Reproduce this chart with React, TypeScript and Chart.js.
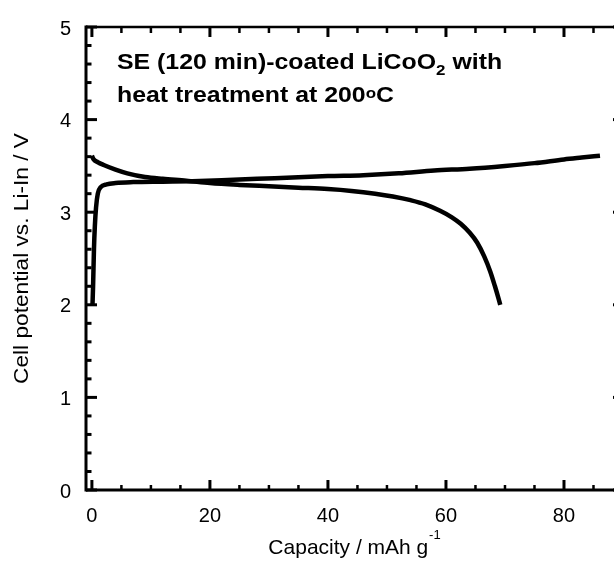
import React, { useEffect, useRef } from "react";
import { Chart, registerables } from "chart.js";

Chart.register(...registerables);

// Charge curve (upper, ends near 86 mAh/g at 3.61 V)
const CHARGE_CAPACITY = [0.1, 0.2, 0.35, 0.5, 0.7, 1.0, 1.5, 2.5, 4, 7, 12, 17, 22, 28, 34, 40, 46, 52, 58, 64, 70, 75, 80, 83, 86.1];
const CHARGE_VOLTAGE = [2.0, 2.2, 2.6, 2.85, 3.05, 3.2, 3.27, 3.3, 3.315, 3.325, 3.33, 3.335, 3.345, 3.36, 3.375, 3.39, 3.4, 3.42, 3.45, 3.47, 3.5, 3.53, 3.57, 3.59, 3.61];

// Discharge curve (starts at 3.6 V, ends near 69 mAh/g at 2.0 V)
const DISCHARGE_CAPACITY = [0, 0.3, 1, 2, 4, 6, 9, 12, 16, 20, 25, 30, 35, 40, 44, 48, 51, 54, 56.5, 59, 61, 62.5, 64, 65.3, 66.5, 67.5, 68.3, 68.9, 69.2];
const DISCHARGE_VOLTAGE = [3.61, 3.57, 3.54, 3.51, 3.46, 3.42, 3.38, 3.36, 3.34, 3.315, 3.295, 3.28, 3.265, 3.25, 3.23, 3.2, 3.17, 3.13, 3.085, 3.015, 2.945, 2.875, 2.78, 2.67, 2.52, 2.36, 2.2, 2.07, 2.0];

const X_MAJOR_TICKS = [0, 20, 40, 60, 80];
const X_MINOR_TICKS = [5, 10, 15, 25, 30, 35, 45, 50, 55, 65, 70, 75, 85];
const Y_MAJOR_TICKS = [0, 1, 2, 3, 4, 5];
const Y_MINOR_TICKS = [0.2, 0.4, 0.6, 0.8, 1.2, 1.4, 1.6, 1.8, 2.2, 2.4, 2.6, 2.8, 3.2, 3.4, 3.6, 3.8, 4.2, 4.4, 4.6, 4.8];

const X_TITLE = "Capacity / mAh g";
const X_TITLE_SUP = "-1";
const Y_TITLE = "Cell potential vs. Li-In / V";
const TITLE_LINE1 = ["SE (120 min)-coated LiCoO", "2", " with"];
const TITLE_LINE2 = ["heat treatment at 200", "o", "C"];

const FONT = "'Liberation Sans', Arial, Helvetica, sans-serif";

type Run = { text: string; size: number; dy: number; bold: boolean };

function drawRuns(ctx: CanvasRenderingContext2D, x: number, y: number, runs: Run[], sx: number, align: "left" | "center") {
  ctx.save();
  let total = 0;
  for (const r of runs) {
    ctx.font = `${r.bold ? "bold " : ""}${r.size}px ${FONT}`;
    total += ctx.measureText(r.text).width;
  }
  ctx.translate(x, y);
  ctx.scale(sx, 1);
  let cx = align === "center" ? -total / 2 : 0;
  ctx.textAlign = "left";
  ctx.textBaseline = "alphabetic";
  ctx.fillStyle = "#000";
  for (const r of runs) {
    ctx.font = `${r.bold ? "bold " : ""}${r.size}px ${FONT}`;
    ctx.fillText(r.text, cx, r.dy);
    cx += ctx.measureText(r.text).width;
  }
  ctx.restore();
}

const framePlugin = {
  id: "frameTicks",
  afterDatasetsDraw(chart: any) {
    const { ctx, chartArea, scales } = chart;
    const { left, right, top, bottom } = chartArea;
    const xs = scales.x;
    const ys = scales.y;
    ctx.save();
    ctx.strokeStyle = "#000";
    ctx.lineCap = "butt";
    const line = (x1: number, y1: number, x2: number, y2: number, w: number) => {
      ctx.lineWidth = w;
      ctx.beginPath();
      ctx.moveTo(x1, y1);
      ctx.lineTo(x2, y2);
      ctx.stroke();
    };
    line(left, top - 1.5, left, bottom + 1.5, 3);
    line(left, bottom, right, bottom, 3);
    line(left, top, right, top, 2.5);
    line(right, top, right, bottom, 2.5);
    for (const v of X_MAJOR_TICKS) {
      const px = xs.getPixelForValue(v);
      line(px, bottom, px, bottom - 10, 3);
      line(px, top, px, top + 10, 3);
    }
    for (const v of X_MINOR_TICKS) {
      const px = xs.getPixelForValue(v);
      line(px, bottom, px, bottom - 5, 2.5);
      line(px, top, px, top + 6, 2.5);
    }
    for (const v of Y_MAJOR_TICKS) {
      const py = ys.getPixelForValue(v);
      line(left, py, left + 11, py, 3);
      line(right, py, right - 10, py, 3);
    }
    for (const v of Y_MINOR_TICKS) {
      const py = ys.getPixelForValue(v);
      line(left, py, left + 5.5, py, 3);
      line(right, py, right - 5, py, 3);
    }
    ctx.restore();
  },
  afterDraw(chart: any) {
    const { ctx, chartArea } = chart;
    const { left, right, top, bottom } = chartArea;
    const tx = left + 31;
    drawRuns(ctx, tx, top + 42, [
      { text: TITLE_LINE1[0], size: 22, dy: 0, bold: true },
      { text: TITLE_LINE1[1], size: 15, dy: 6, bold: true },
      { text: TITLE_LINE1[2], size: 22, dy: 0, bold: true },
    ], 1.13, "left");
    drawRuns(ctx, tx, top + 75, [
      { text: TITLE_LINE2[0], size: 22, dy: 0, bold: true },
      { text: TITLE_LINE2[1], size: 15, dy: -4, bold: true },
      { text: TITLE_LINE2[2], size: 22, dy: 0, bold: true },
    ], 1.13, "left");
    drawRuns(ctx, (left + right) / 2, 554, [
      { text: X_TITLE, size: 21, dy: 0, bold: false },
      { text: " ", size: 3, dy: 0, bold: false },
      { text: X_TITLE_SUP, size: 13, dy: -15, bold: false },
    ], 1.0, "center");
    ctx.save();
    ctx.translate(22, (top + bottom) / 2);
    ctx.rotate(-Math.PI / 2);
    ctx.scale(1.08, 1);
    ctx.font = `21px ${FONT}`;
    ctx.fillStyle = "#000";
    ctx.textAlign = "center";
    ctx.textBaseline = "middle";
    ctx.fillText(Y_TITLE, 0, 0);
    ctx.restore();
  },
};

export default function App() {
  const ref = useRef<HTMLCanvasElement | null>(null);
  useEffect(() => {
    if (!ref.current) return;
    const chart = new Chart(ref.current, {
      type: "scatter",
      data: {
        datasets: [
          {
            label: "charge",
            data: CHARGE_CAPACITY.map((c, i) => ({ x: c, y: CHARGE_VOLTAGE[i] })),
            showLine: true,
            borderColor: "#000",
            backgroundColor: "#000",
            borderWidth: 4.5,
            pointRadius: 0,
            cubicInterpolationMode: "monotone",
          },
          {
            label: "discharge",
            data: DISCHARGE_CAPACITY.map((c, i) => ({ x: c, y: DISCHARGE_VOLTAGE[i] })),
            showLine: true,
            borderColor: "#000",
            backgroundColor: "#000",
            borderWidth: 4.5,
            pointRadius: 0,
            cubicInterpolationMode: "monotone",
          },
        ],
      },
      options: {
        responsive: false,
        animation: false,
        devicePixelRatio: 1,
        layout: { padding: { left: 0, right: 17, top: 18, bottom: 0 } },
        plugins: { legend: { display: false }, tooltip: { enabled: false }, title: { display: false } },
        scales: {
          x: {
            type: "linear",
            min: -1,
            max: 90,
            grid: { display: false, drawTicks: false },
            border: { display: false },
            afterBuildTicks: (s: any) => {
              s.ticks = X_MAJOR_TICKS.map((v) => ({ value: v }));
            },
            afterFit: (s: any) => {
              s.height = 76;
            },
            ticks: {
              padding: 14,
              color: "#000",
              font: { family: FONT, size: 20 },
              callback: (v: any) => String(v),
            },
          },
          y: {
            type: "linear",
            min: 0,
            max: 5,
            grid: { display: false, drawTicks: false },
            border: { display: false },
            afterBuildTicks: (s: any) => {
              s.ticks = Y_MAJOR_TICKS.map((v) => ({ value: v }));
            },
            afterFit: (s: any) => {
              s.width = 86;
            },
            ticks: {
              padding: 15,
              labelOffset: 2,
              color: "#000",
              font: { family: FONT, size: 20 },
              callback: (v: any) => String(v),
            },
          },
        },
      },
      plugins: [framePlugin],
    } as any);
    return () => chart.destroy();
  }, []);
  return (
    <div style={{ position: "fixed", left: 0, top: 0, width: 614, height: 566, overflow: "hidden", background: "#fff" }}>
      <canvas ref={ref} width={640} height={566} style={{ display: "block", width: 640, height: 566 }} />
    </div>
  );
}
